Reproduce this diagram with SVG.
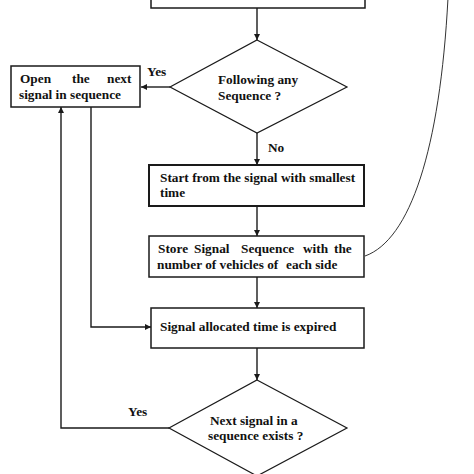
<svg xmlns="http://www.w3.org/2000/svg" width="474" height="474" viewBox="0 0 474 474">
<style>
.box{fill:#fff;stroke:#1a1a1a;stroke-width:1.5}
.bold{stroke-width:2}
.t{font-family:"Liberation Serif","Times New Roman",serif;font-weight:bold;font-size:13.3px;fill:#111}
.c{fill:none;stroke:#1a1a1a;stroke-width:1.4}
</style>
<defs>
<marker id="ah" viewBox="0 0 10 10" refX="10" refY="5" markerWidth="6" markerHeight="6" orient="auto" markerUnits="userSpaceOnUse">
<path d="M0,0 L10,5 L0,10 z" fill="#1a1a1a"/>
</marker>
</defs>
<rect width="474" height="474" fill="#fff"/>
<g id="connectors">
<path class="c" d="M257,8 V40" marker-end="url(#ah)"/>
<path class="c" d="M170,87 H141" marker-end="url(#ah)"/>
<path class="c" d="M257,133 V165" marker-end="url(#ah)"/>
<path class="c" d="M257,206 V236" marker-end="url(#ah)"/>
<path class="c" d="M257,277 V308" marker-end="url(#ah)"/>
<path class="c" d="M257,348 V380" marker-end="url(#ah)"/>
<path class="c" d="M91,107 V327 H151" marker-end="url(#ah)"/>
<path class="c" d="M169,428 H61 V107" marker-end="url(#ah)"/>
<path fill="none" stroke="#333" stroke-width="1" d="M365,256 C410,240 440,150 448,-2"/>
<text class="t" x="147" y="76">Yes</text>
<text class="t" x="268" y="152">No</text>
<text class="t" x="128" y="416">Yes</text>
</g>
<g id="top-box">
<rect class="box" x="151" y="-20" width="214" height="28"/>
</g>
<g id="decision1">
<polygon class="box" style="stroke-width:1.2" points="257,40 347,87 257,133 170,87"/>
<text class="t" x="218" y="84">Following any</text>
<text class="t" x="218" y="100">Sequence ?</text>
</g>
<g id="open-next">
<rect class="box" x="11" y="66" width="129" height="41"/>
<text class="t" y="83"><tspan x="20">Open</tspan><tspan x="72">the</tspan><tspan x="107">next</tspan></text>
<text class="t" x="19" y="99">signal in sequence</text>
</g>
<g id="start">
<rect class="box bold" x="149" y="165" width="215" height="41"/>
<text class="t" x="160" y="182">Start from the signal with smallest</text>
<text class="t" x="160" y="197">time</text>
</g>
<g id="store">
<rect class="box" x="149" y="236" width="215" height="41"/>
<text class="t" y="253"><tspan x="158">Store</tspan><tspan x="194">Signal</tspan><tspan x="241">Sequence</tspan><tspan x="303">with</tspan><tspan x="334">the</tspan></text>
<text class="t" y="269"><tspan x="157">number of vehicles of</tspan><tspan x="286">each side</tspan></text>
</g>
<g id="expired">
<rect class="box" x="151" y="308" width="213" height="40"/>
<text class="t" x="160" y="331">Signal allocated time is expired</text>
</g>
<g id="decision2">
<polygon class="box" style="stroke-width:1.2" points="257,380 347,428 257,476 169,428"/>
<text class="t" x="210" y="425">Next signal in a</text>
<text class="t" x="208" y="440">sequence exists ?</text>
</g>
</svg>
